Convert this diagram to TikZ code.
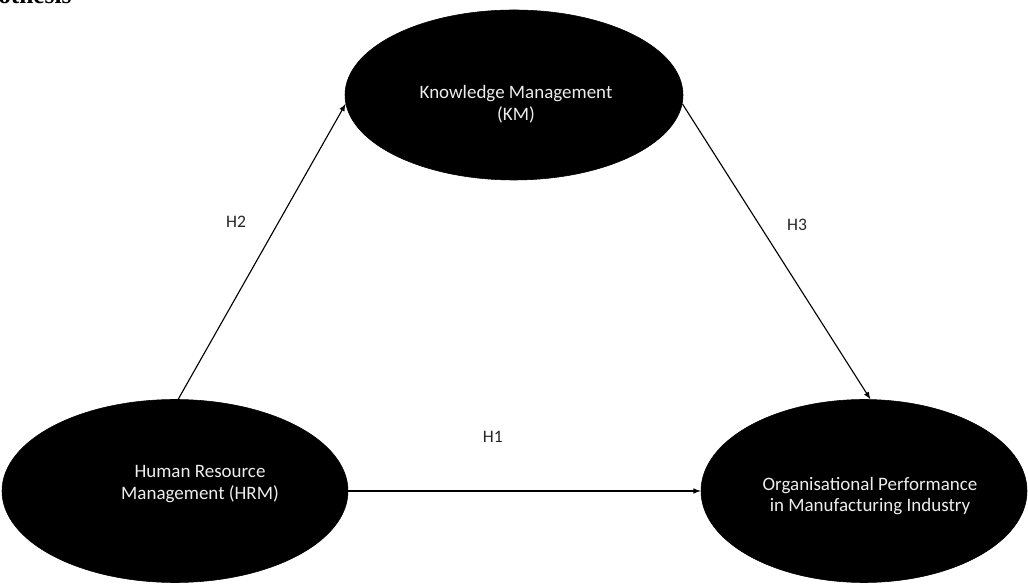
\documentclass[tikz,border=0pt]{standalone}
\usepackage{fontspec}
\setmainfont{Carlito}
\newfontfamily\headfont{Liberation Serif}
\usepackage{xcolor}
\usepackage{tikz}
\usetikzlibrary{shapes.geometric, arrows, positioning, calc}

\definecolor{bubbletext}{HTML}{EDEDED}

\begin{document}
\begin{tikzpicture}[
    construct/.style={ellipse, fill=black, draw=black, inner sep=0pt},
    constructtext/.style={text=bubbletext, align=center, font=\fontsize{13.5}{15.5}\selectfont},
    hyp/.style={font=\fontsize{12.5}{15}\selectfont, inner sep=0pt, text=black!85}
]
    % Frame
    \useasboundingbox (0,0) rectangle (25.7,14.7);
    \clip (0,0) rectangle (25.7,14.7);

    % Heading (cut off at the top)
    \node[anchor=base west, inner sep=0pt, font=\headfont\bfseries\fontsize{18}{20}\selectfont] (head) at (-0.05,14.6) {othesis};

    % Constructs
    \node[construct, minimum width=8.45cm, minimum height=4.25cm] (km) at (12.85,12.325) {};
    \node[construct, minimum width=8.65cm, minimum height=4.575cm] (hrm) at (4.375,2.425) {};
    \node[construct, minimum width=8.15cm, minimum height=4.575cm] (op) at (21.6,2.425) {};

    % Labels
    \node[constructtext] (kmtext) at (12.9,12.1) {Knowledge Management\\(KM)};
    \node[constructtext] (hrmtext) at (5.0,2.6) {Human Resource\\Management (HRM)};
    \node[constructtext] (optext) at (21.75,2.3) {Organisational Performance\\in Manufacturing Industry};

    % Hypotheses
    \draw [-latex, thick] (hrm.88) -- node[hyp, pos=0.6, left=0.8cm] (h2) {H2} (km.183);
    \draw [-latex, thick] (km.-3) -- node[hyp, pos=0.41, right=0.68cm] (h3) {H3} (op.86);
    \draw [-latex, thick] (hrm.east) -- node[hyp, pos=0.41, above=1.2cm] (h1) {H1} (op.west);

\end{tikzpicture}
\end{document}
